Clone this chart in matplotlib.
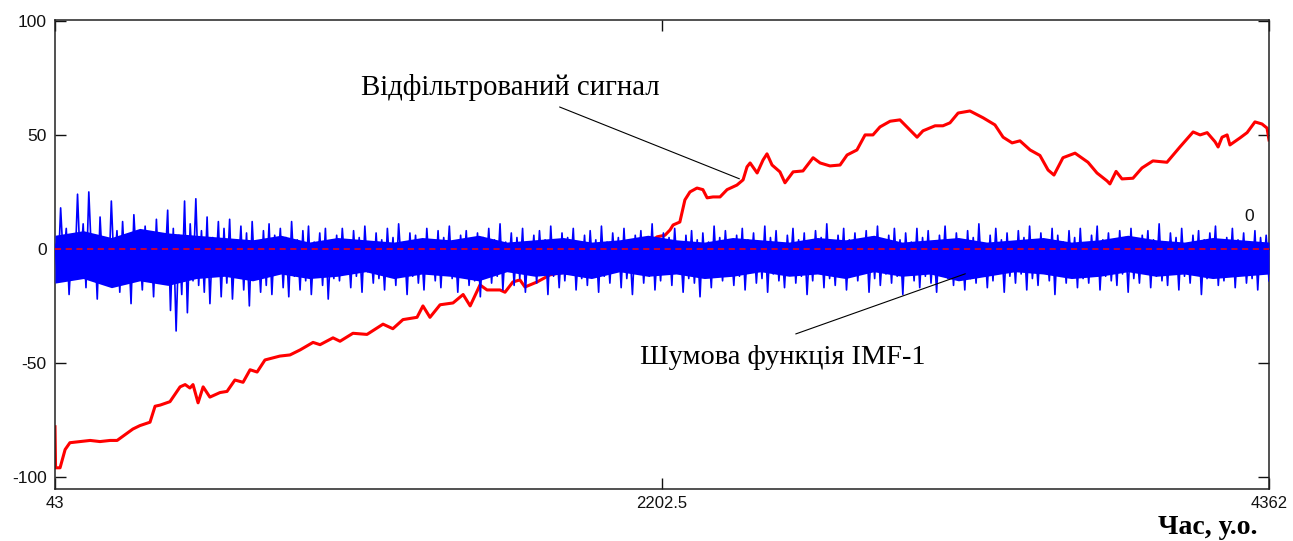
import numpy as np
import matplotlib
matplotlib.use('Agg')
import matplotlib.pyplot as plt

plt.rcParams['axes.unicode_minus'] = False

# filtered signal (red)
sig_x = [43, 45, 61, 79, 96, 132, 168, 203, 239, 264, 292, 320, 345, 381, 399, 417, 452,
         488, 506, 523, 534, 552, 570, 594, 630, 655, 683, 712, 737, 762, 790, 843, 879,
         915, 961, 986, 1032, 1057, 1103, 1153, 1210, 1245, 1281, 1331, 1352, 1377, 1413,
         1459, 1495, 1520, 1555, 1580, 1626, 1644, 1672, 1697, 1715, 1758, 1804, 1840,
         1886, 1921, 1964, 2017, 2089, 2149, 2185, 2213, 2231, 2242, 2266, 2284, 2302,
         2327, 2348, 2363, 2384, 2409, 2434, 2469, 2491, 2505, 2516, 2541, 2562, 2576,
         2594, 2622, 2640, 2669, 2704, 2740, 2765, 2800, 2836, 2861, 2896, 2925, 2953,
         2978, 3014, 3049, 3074, 3110, 3131, 3174, 3202, 3227, 3256, 3298, 3345, 3387,
         3416, 3448, 3476, 3512, 3547, 3576, 3597, 3629, 3672, 3718, 3750, 3786, 3796,
         3818, 3839, 3878, 3910, 3949, 3999, 4045, 4092, 4117, 4142, 4170, 4181, 4195,
         4213, 4223, 4259, 4284, 4312, 4337, 4355, 4362]
sig_y = [-78, -96, -96, -88, -85, -84.5, -84, -84.5, -84, -84, -81.5, -79, -77.5, -76,
         -69, -68.5, -67, -60.5, -59.5, -61, -59.5, -67.5, -60.5, -65, -63, -62.5, -57.5,
         -58.5, -53, -54, -48.7, -47, -46.5, -44.3, -41, -42, -39, -40.5, -37, -37.5, -33,
         -35, -31, -30, -25, -30, -24.5, -23.7, -20, -25, -15.8, -18, -18, -19, -14.5,
         -13.6, -16.7, -14.5, -11.4, -10.5, -10, -7.9, -7, -4.8, -1.8, 1.8, 5.3, 6, 8.3,
         10.5, 11.8, 21.5, 25, 26.7, 26, 22.4, 22.8, 22.8, 26, 28, 30.3, 36, 37.7, 33.3,
         39, 41.7, 36.8, 33.8, 29, 33.8, 34.2, 40, 37.7, 36.4, 36.8, 41.2, 43.4, 50, 50,
         53.5, 56, 56.6, 53.5, 49, 51.8, 54, 54, 55.3, 59.6, 60.5, 57.5, 54.4, 49, 46.5,
         47.4, 43.4, 41, 34.6, 32.4, 40, 42, 38, 33.3, 29.8, 28.5, 34, 30.7, 31, 35.5,
         38.6, 38, 44.7, 51.3, 50, 51, 47, 44.7, 49, 50, 45.6, 48.7, 51, 55.7, 54.8, 53,
         47.8]

# noise function IMF-1 (blue), values read along the band
imf1 = [2, -14, 18, -6, 9, -20, 3, -12, 24, -8, 11, -17, 25, -4, 6, -22, 14, -10, 4, -16,
        21, -9, 8, -19, 12, -13, 5, -24, 15, -7, 2, -18, 10, -11, 7, -21, 13, -15, 4, -9,
        17, -27, 9, -36, 6, -20, 21, -28, 11, -14, 22, -16, 8, -19, 14, -24, 5, -12, 12, -21,
        9, -15, 13, -22, 4, -11, 10, -18, 7, -25, 12, -13, 3, -19, 8, -16, 11, -20, 6, -10,
        9, -17, 5, -21, 12, -12, 4, -18, 8, -14, 10, -20, 3, -11, 7, -16, 9, -22, 2, -13,
        6, -14, 9, -9, 3, -17, 8, -12, 5, -19, 10, -10, 2, -15, 7, -13, 4, -18, 9, -11,
        5, -16, 11, -8, 3, -20, 7, -12, 6, -15, 2, -18, 9, -10, 4, -14, 8, -17, 5, -9,
        10, -13, 3, -19, 6, -11, 8, -16, 2, -14, 7, -21, 5, -10, 9, -15, 4, -12, 11, -18,
        3, -9, 7, -16, 5, -13, 9, -19, 2, -11, 6, -15, 8, -10, 4, -20, 10, -12, 3, -17,
        7, -14, 5, -9, 9, -18, 2, -13, 6, -16, 8, -11, 4, -19, 10, -12, 3, -15, 7, -10,
        5, -17, 9, -13, 2, -20, 6, -9, 8, -15, 4, -12, 11, -18, 3, -14, 7, -11, 5, -16,
        9, -10, 2, -19, 6, -13, 8, -15, 4, -21, 7, -11, 3, -17, 10, -12, 5, -14, 8, -9,
        2, -16, 6, -12, 9, -18, 4, -10, 7, -15, 3, -13, 10, -19, 5, -11, 8, -14, 2, -17,
        6, -9, 9, -15, 4, -12, 7, -20, 3, -14, 8, -10, 5, -17, 11, -13, 2, -16, 6, -11,
        9, -18, 4, -12, 7, -14, 3, -10, 8, -19, 5, -13, 10, -16, 2, -11, 6, -15, 9, -12,
        4, -20, 7, -10, 3, -14, 9, -17, 5, -12, 8, -15, 2, -19, 6, -11, 10, -13, 4, -16,
        7, -9, 3, -18, 8, -13, 5, -15, 11, -11, 2, -17, 6, -14, 9, -10, 4, -19, 7, -12,
        3, -15, 8, -11, 5, -18, 10, -13, 2, -16, 7, -10, 4, -14, 9, -20, 6, -12, 3, -15,
        8, -11, 5, -17, 9, -13, 2, -15, 6, -10, 10, -18, 4, -12, 7, -14, 3, -16, 8, -11,
        5, -19, 9, -13, 2, -15, 6, -10, 8, -17, 4, -12, 11, -14, 3, -16, 7, -9, 5, -18,
        9, -12, 2, -15, 6, -11, 8, -20, 4, -13, 7, -10, 10, -16, 3, -14, 5, -12, 9, -17,
        4, -11, 7, -15, 2, -13, 8, -18, 5, -10, 6, -14]

# dense core of the noise band (upper / lower edge of the solid part)
core_hi = [6, 8, 5, 9, 7, 6,
           5, 4, 6, 3, 5, 4, 3, 5, 4, 6, 3, 4, 5, 3, 4, 6, 4, 3, 5, 4,
           3, 5, 4, 6, 3, 4, 5, 3, 4, 5, 3, 4, 6, 4, 3, 5, 4, 3]
core_lo = [-15, -13, -17, -14, -16, -13,
           -12, -14, -11, -13, -12, -10, -13, -11, -12, -14, -10, -12, -11, -13,
           -10, -12, -11, -13, -12, -10, -12, -11, -13, -10, -12, -11, -14, -12,
           -10, -11, -13, -12, -10, -12, -11, -13, -12, -11]

x_ticks = [43, 2202.5, 4362]
x_labels = ['43', '2202.5', '4362']
y_ticks = [-100, -50, 0, 50, 100]

W, H = 1293, 541
fig = plt.figure(figsize=(W / 100, H / 100), dpi=100)
ax = fig.add_axes([55 / W, 1 - 489 / H, (1269 - 55) / W, (489 - 20) / H])

imf_x = np.linspace(43, 4362, len(imf1))
core_x = np.linspace(43, 4362, len(core_hi))
ax.plot(sig_x, sig_y, color='#ff0000', lw=2.2, zorder=2)
ax.fill_between(core_x, core_lo, core_hi, color='#0000ff', lw=0, zorder=3)
ax.plot(imf_x, imf1, color='#0000ff', lw=1.2, zorder=3)
ax.axhline(0, color='#ff0000', lw=1.1, ls=(0, (4, 3)), zorder=4)

ax.set_xlim(43, 4362)
ax.set_ylim(-105.3, 100.4)
ax.set_xticks(x_ticks)
ax.set_xticklabels(x_labels)
ax.set_yticks(y_ticks)
ax.tick_params(axis='y', direction='in', length=8, width=1, right=True,
               labelsize=12.5, pad=6, colors='#111111')
ax.tick_params(axis='x', direction='in', length=8, width=1, top=True,
               labelsize=12, pad=5, colors='#111111')
for lab in ax.get_xticklabels() + ax.get_yticklabels():
    lab.set_family(['Liberation Sans', 'DejaVu Sans'])
for s in ax.spines.values():
    s.set_linewidth(1.1)
    s.set_color('#222222')

serif = ['Liberation Serif', 'DejaVu Serif']
ax.text(1662, 70.6, 'Відфільтрований сигнал', family=serif, fontsize=20.8,
        ha='center', va='center')
ax.text(2633, -47.8, 'Шумова функція IMF-1', family=serif, fontsize=20.4,
        ha='center', va='center')
ax.annotate('', xy=(2487, 30.3), xytext=(1829, 62.7),
            arrowprops=dict(arrowstyle='-', lw=0.8, color='black'))
ax.annotate('', xy=(3291, -10.5), xytext=(2669, -37.7),
            arrowprops=dict(arrowstyle='-', lw=0.8, color='black'))
ax.text(4291, 14, '0', family=['Liberation Sans', 'DejaVu Sans'], fontsize=12.5,
        ha='center', va='center', color='#111111')
fig.text(1208 / W, 1 - 527 / H, 'Час, у.о.', family=serif, fontsize=20,
         fontweight='bold', ha='center', va='center')

fig.savefig('out.png', dpi=100)
